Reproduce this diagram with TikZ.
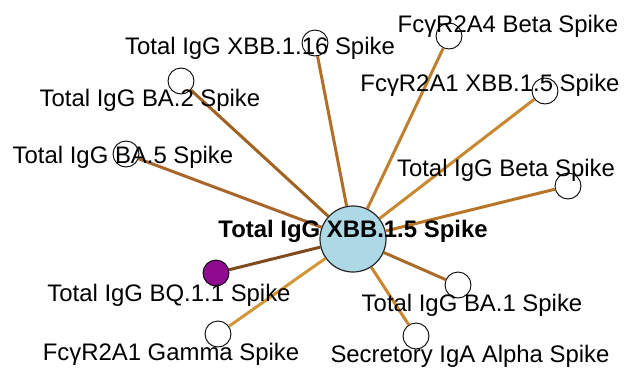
\documentclass[tikz,border=0pt]{standalone}
\usepackage{fontspec}
\setmainfont{Liberation Sans}
\begin{document}
\begin{tikzpicture}[x=1pt,y=-1pt,
  small/.style={circle,draw=black,line width=0.9pt,fill=white,minimum size=26pt,inner sep=0pt},
  hub/.style={circle,draw=black!85,line width=1.2pt,fill=hubblue,minimum size=66pt,inner sep=0pt},
  lbl/.style={anchor=base,inner sep=0pt,font=\fontsize{23.9}{28}\selectfont},
  edge/.style={line width=3pt}]
\definecolor{hubblue}{HTML}{ADD8E6}
\definecolor{qpurple}{HTML}{8E0A8E}
\useasboundingbox (0,0) rectangle (624,370);
% nodes
\node[hub] (c) at (353,239) {};
\node[small] (n116) at (315,43) {};
\node[small] (nba2) at (181,81) {};
\node[small] (nba5) at (126,154) {};
\node[small] (nr4) at (449,36) {};
\node[small] (nr1x) at (545,91) {};
\node[small] (nbeta) at (568,186) {};
\node[small,fill=qpurple] (nbq) at (216,273) {};
\node[small] (ngam) at (218,334) {};
\node[small] (nba1) at (458,285) {};
\node[small] (nsec) at (416,336) {};
% edges
\draw[edge,color={rgb,255:red,176;green,110;blue,40}] (c) -- (n116);
\draw[edge,color={rgb,255:red,160;green,98;blue,31}] (c) -- (nba2);
\draw[edge,color={rgb,255:red,168;green,102;blue,42}] (c) -- (nba5);
\draw[edge,color={rgb,255:red,192;green,127;blue,46}] (c) -- (nr4);
\draw[edge,color={rgb,255:red,200;green,136;blue,48}] (c) -- (nr1x);
\draw[edge,color={rgb,255:red,184;green,117;blue,40}] (c) -- (nbeta);
\draw[edge,color={rgb,255:red,126;green,74;blue,30}] (c) -- (nbq);
\draw[edge,color={rgb,255:red,211;green,149;blue,56}] (c) -- (ngam);
\draw[edge,color={rgb,255:red,168;green,107;blue,42}] (c) -- (nba1);
\draw[edge,color={rgb,255:red,200;green,134;blue,46}] (c) -- (nsec);
% labels
\node[lbl,font=\fontsize{23.9}{28}\selectfont\bfseries] (lc) at (353,237) {Total IgG XBB.1.5 Spike};
\node[lbl] (l116) at (260,54) {Total IgG XBB.1.16 Spike};
\node[lbl] (lba2) at (150,106) {Total IgG BA.2 Spike};
\node[lbl] (lba5) at (123,163) {Total IgG BA.5 Spike};
\node[lbl] (lr4) at (508,32) {FcγR2A4 Beta Spike};
\node[lbl] (lr1x) at (490,91) {FcγR2A1 XBB.1.5 Spike};
\node[lbl] (lbeta) at (506,176) {Total IgG Beta Spike};
\node[lbl] (lbq) at (169,301) {Total IgG BQ.1.1 Spike};
\node[lbl] (lgam) at (171,360) {FcγR2A1 Gamma Spike};
\node[lbl] (lba1) at (472,311) {Total IgG BA.1 Spike};
\node[lbl] (lsec) at (470,362) {Secretory IgA Alpha Spike};
\end{tikzpicture}
\end{document}
